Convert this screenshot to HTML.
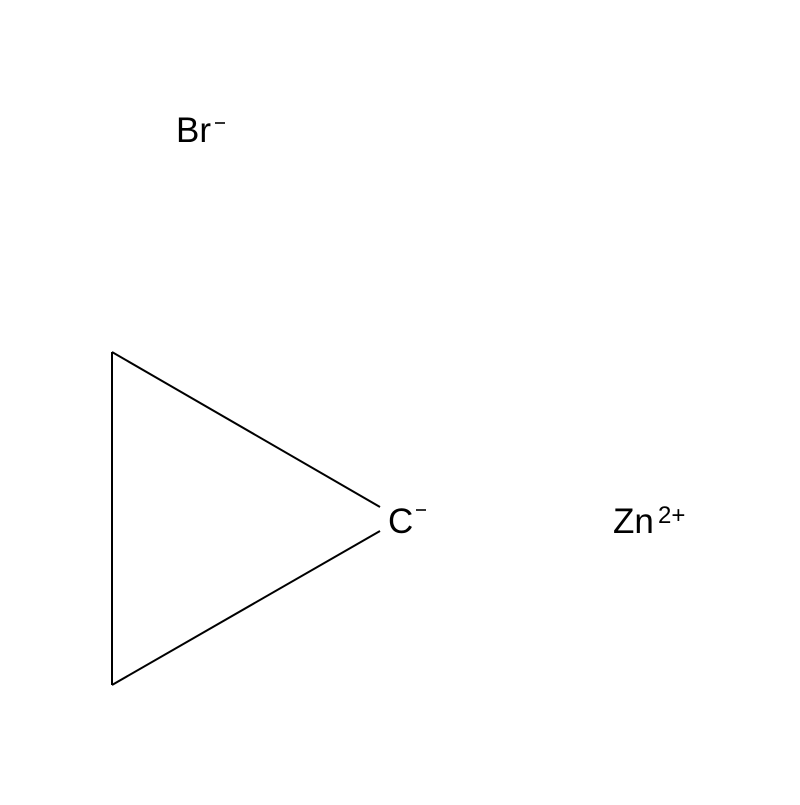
<!DOCTYPE html>
<html><head><style>body{margin:0;background:#fff}</style></head><body>
<svg width="800" height="800" xmlns="http://www.w3.org/2000/svg">
<rect width="800" height="800" fill="#fff"/>
<g stroke="#000" stroke-width="2" fill="none">
<line x1="112" y1="352" x2="112" y2="685"/>
<line x1="112" y1="352" x2="380" y2="507"/>
<line x1="112" y1="685" x2="380" y2="531"/>
<line x1="215" y1="123" x2="225" y2="123" stroke-width="1.6"/>
<line x1="416" y1="510" x2="426" y2="510" stroke-width="1.6"/>
</g>
<g font-family="'Liberation Sans','DejaVu Sans',sans-serif" font-size="35" fill="#000">
<text x="176" y="142">Br</text>
<text x="388" y="533">C</text>
<text x="613" y="533">Zn</text><text x="658" y="523" font-size="24">2+</text>
</g>
</svg>
</body></html>
